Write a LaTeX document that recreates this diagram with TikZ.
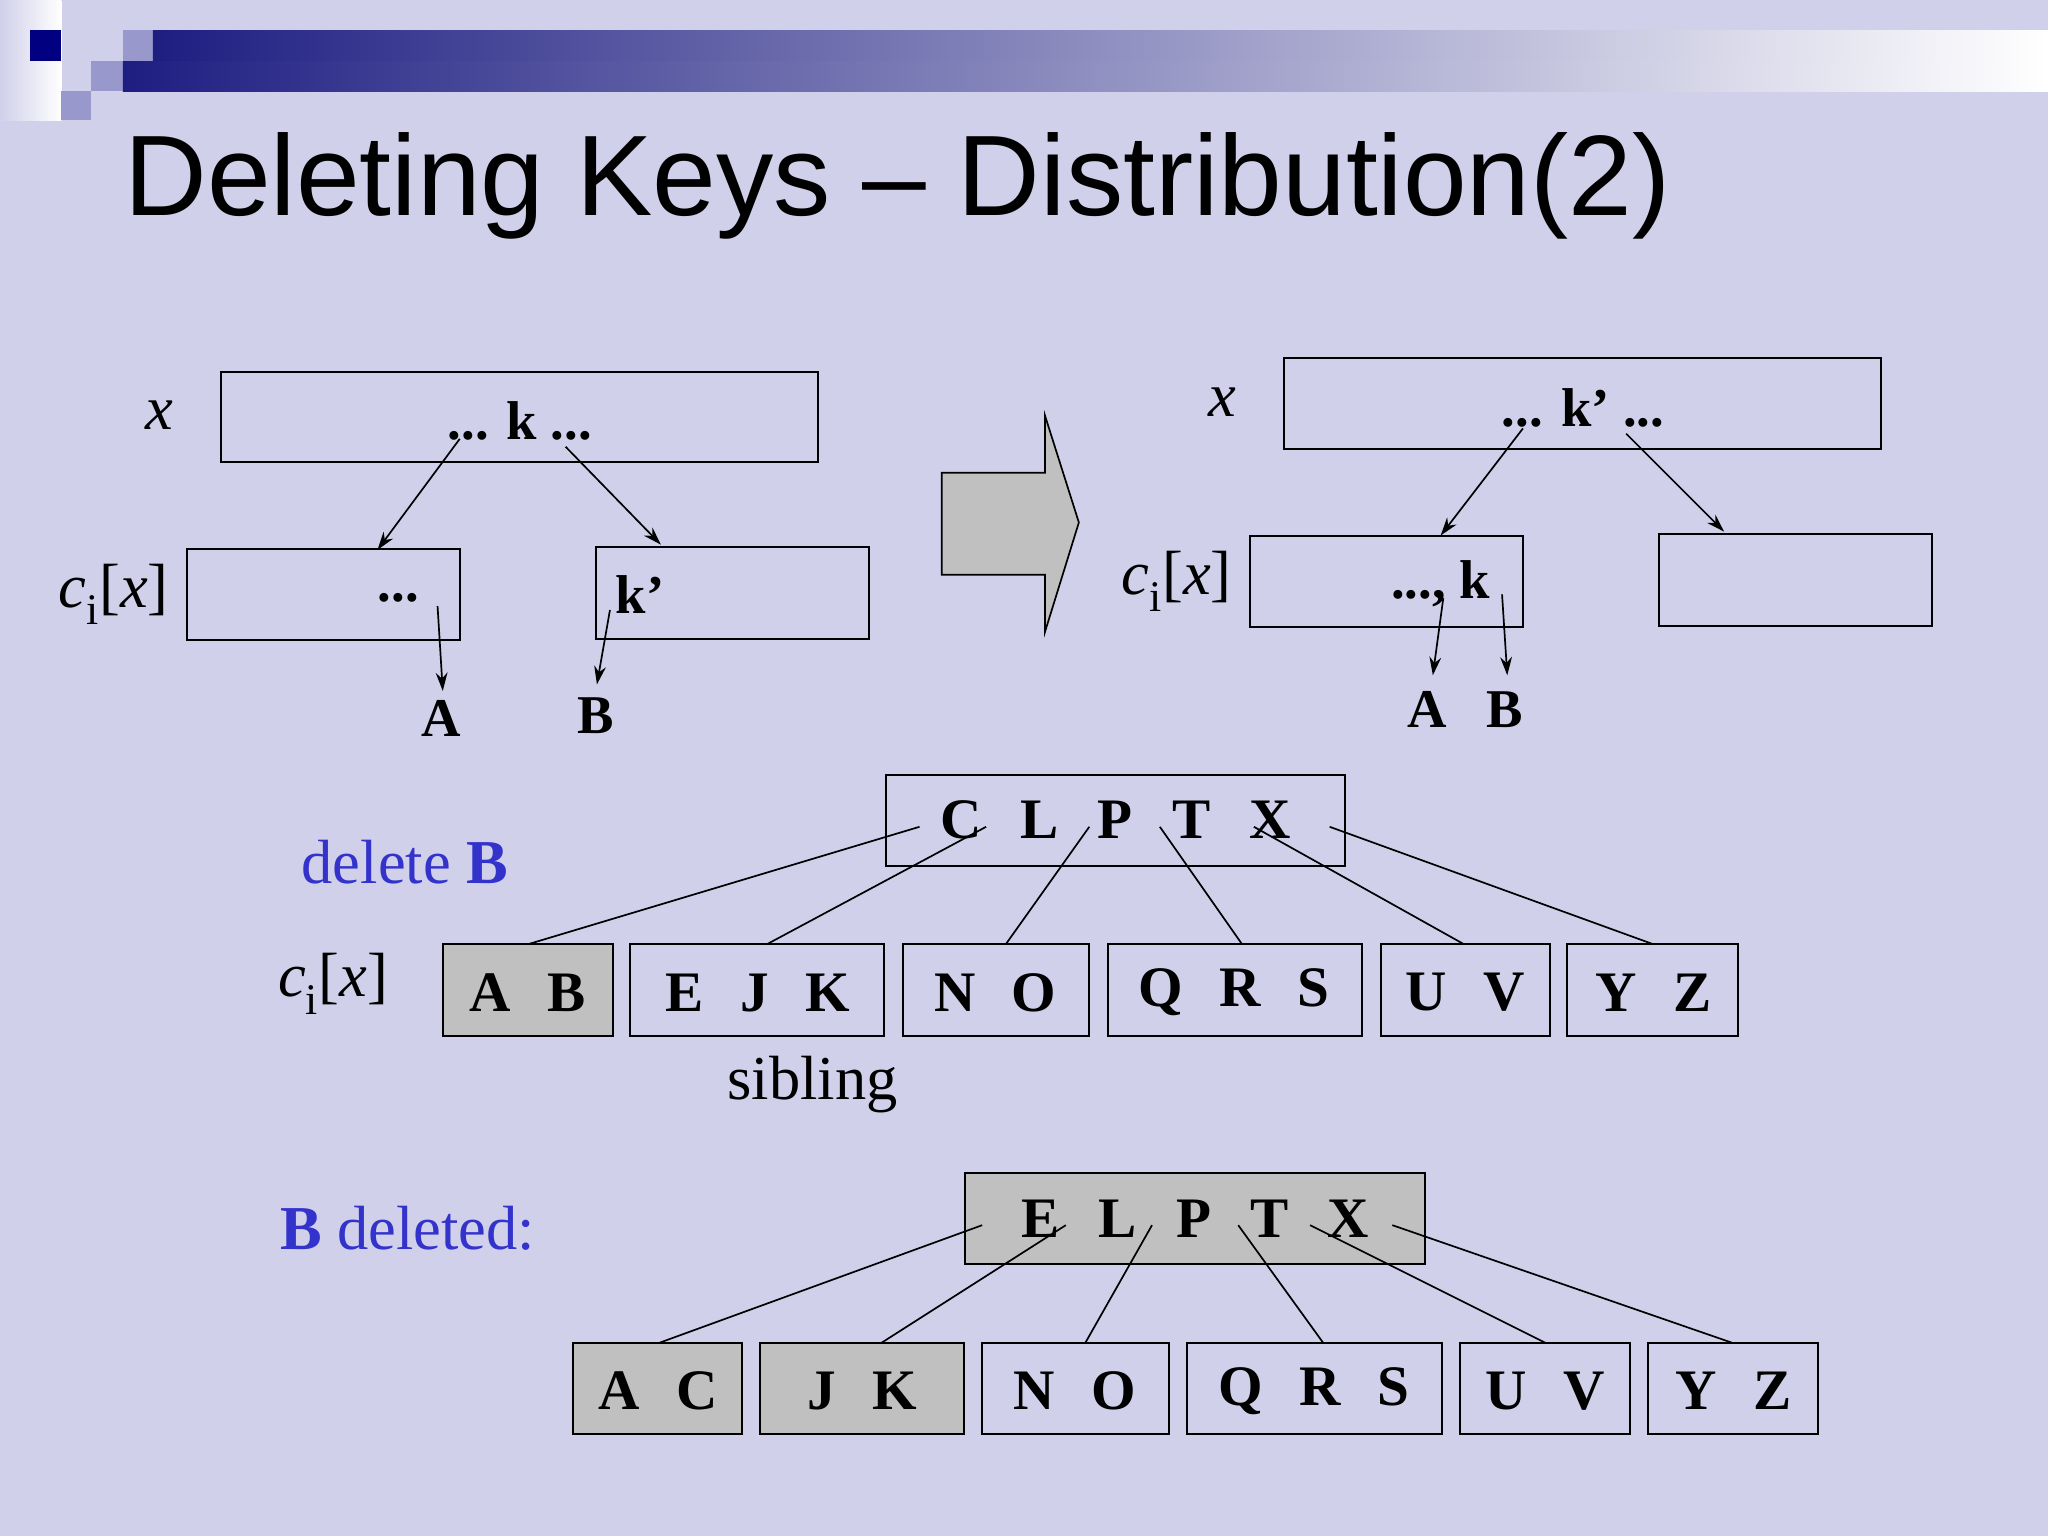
\documentclass[tikz,border=0pt]{standalone}
\usepackage{fontspec}
\setmainfont{Liberation Serif}
\newfontfamily\titlefont{Liberation Sans}
\usetikzlibrary{arrows.meta}
\definecolor{bg}{RGB}{208,208,234}
\definecolor{navy}{RGB}{0,0,128}
\definecolor{dnavy}{RGB}{30,30,130}
\definecolor{lsq}{RGB}{152,152,204}
\definecolor{blu}{RGB}{51,51,204}
\definecolor{gr}{RGB}{192,192,192}
\newcommand{\cix}{\textit{c}\textsubscript{i}[\textit{x}]}
\begin{document}
\begin{tikzpicture}[x=1bp,y=-1bp,
  box/.style={draw=black,line width=1.5bp},
  gbox/.style={box,fill=gr},
  ln/.style={line width=1.3bp},
  ar/.style={ln,-{Stealth[length=14bp,width=9bp]}},
  bt/.style={font=\fontsize{42}{42}\selectfont\bfseries},
  kt/.style={font=\fontsize{44}{44}\selectfont\bfseries},
  it/.style={font=\fontsize{48}{48}\selectfont}]
\fill[bg] (0,0) rectangle (1568,1176);
\useasboundingbox (0,0) rectangle (1568,1176);
% decoration
\shade[left color=bg,right color=white] (0,0) rectangle (47,92);
\fill[navy] (23,23) rectangle (47,47);
\fill[lsq] (94,23) rectangle (117,47);
\fill[lsq] (70,47) rectangle (94,70);
\fill[lsq] (47,70) rectangle (70,92);
\shade[left color=dnavy,right color=white] (117,23) rectangle (1568,47);
\shade[left color=dnavy,right color=white] (94,47) rectangle (1568,70);
\node[anchor=base west,inner sep=0,font=\titlefont\fontsize{88}{88}\selectfont] (title) at (95,165) {Deleting Keys – Distribution(2)};
% left top
\node[it] (xl) at (122,318) {\textit{x}};
\draw[box] (169,285) rectangle (626,354);
\node[bt] (k) at (398,322) {... k ...};
\draw[box] (143,420) rectangle (352,490);
\draw[box] (456,419) rectangle (665,489);
\node[bt] (dots) at (305,458) {...};
\node[bt] (kp) at (490,455) {k'};
\node[it] (cl) at (87,455) {\cix};
\node[bt] (A1) at (338,550) {A};
\node[bt] (B1) at (456,548) {B};
\draw[ar] (352,336) -- (289,421);
\draw[ar] (433,342) -- (506,417);
\draw[ar] (335,464) -- (339,529);
\draw[ar] (467,467) -- (457,524);
% big arrow
\draw[fill=gr,line width=1.3bp] (721,362) -- (800,362) -- (800,318) -- (826,400) -- (800,484) -- (800,440) -- (721,440) -- cycle;
% right top
\node[it] (xr) at (936,308) {\textit{x}};
\draw[box] (983,274) rectangle (1440,344);
\node[bt] (k2) at (1212,312) {... k' ...};
\draw[box] (957,410) rectangle (1166,480);
\draw[box] (1270,409) rectangle (1479,479);
\node[bt] (dk) at (1103,447) {..., k};
\node[it] (cr) at (901,445) {\cix};
\node[bt] (A2) at (1093,543) {A};
\node[bt] (B2) at (1152,543) {B};
\draw[ar] (1166,328) -- (1103,410);
\draw[ar] (1245,332) -- (1320,407);
\draw[ar] (1105,458) -- (1097,517);
\draw[ar] (1150,455) -- (1154,517);
% middle
\node[it,text=blu] (del) at (310,660) {delete \textbf{B}};
\node[it] (cm) at (255,753) {\cix};
\node[it] (sib) at (622,830) {sibling};
\draw[box] (678,593) rectangle (1030,663);
\node[kt] (r1) at (854,628) {C\hspace{30bp}L\hspace{30bp}P\hspace{30bp}T\hspace{30bp}X};
\draw[gbox] (339,723) rectangle (469,793);
\draw[box] (482,723) rectangle (677,793);
\draw[box] (691,723) rectangle (834,793);
\draw[box] (848,723) rectangle (1043,793);
\draw[box] (1057,723) rectangle (1187,793);
\draw[box] (1200,723) rectangle (1331,793);
\node[kt] (m1) at (404,760) {A\hspace{28bp}B};
\node[kt] (m2) at (580,760) {E\hspace{28bp}J\hspace{28bp}K};
\node[kt] (m3) at (762,760) {N\hspace{28bp}O};
\node[kt] (m4) at (945,760) {Q\hspace{28bp}R\hspace{28bp}S};
\node[kt] (m5) at (1122,760) {U\hspace{28bp}V};
\node[kt] (m6) at (1266,760) {Y\hspace{28bp}Z};
\draw[ln] (704,633) -- (404,723);
\draw[ln] (755,633) -- (587,723);
\draw[ln] (834,633) -- (770,723);
\draw[ln] (888,633) -- (951,723);
\draw[ln] (960,633) -- (1121,723);
\draw[ln] (1018,633) -- (1266,723);
% bottom
\node[it,text=blu] (bd) at (312,940) {\textbf{B} deleted:};
\draw[gbox] (739,898) rectangle (1091,968);
\node[kt] (r2) at (915,933) {E\hspace{30bp}L\hspace{30bp}P\hspace{30bp}T\hspace{30bp}X};
\draw[gbox] (439,1028) rectangle (568,1098);
\draw[gbox] (582,1028) rectangle (738,1098);
\draw[box] (752,1028) rectangle (895,1098);
\draw[box] (909,1028) rectangle (1104,1098);
\draw[box] (1118,1028) rectangle (1248,1098);
\draw[box] (1262,1028) rectangle (1392,1098);
\node[kt] (b1) at (504,1065) {A\hspace{28bp}C};
\node[kt] (b2) at (660,1065) {J\hspace{28bp}K};
\node[kt] (b3) at (823,1065) {N\hspace{28bp}O};
\node[kt] (b4) at (1006,1065) {Q\hspace{28bp}R\hspace{28bp}S};
\node[kt] (b5) at (1183,1065) {U\hspace{28bp}V};
\node[kt] (b6) at (1327,1065) {Y\hspace{28bp}Z};
\draw[ln] (752,938) -- (505,1028);
\draw[ln] (816,938) -- (675,1028);
\draw[ln] (882,938) -- (831,1028);
\draw[ln] (948,938) -- (1013,1028);
\draw[ln] (1003,938) -- (1183,1028);
\draw[ln] (1066,938) -- (1326,1028);
\end{tikzpicture}
\end{document}
